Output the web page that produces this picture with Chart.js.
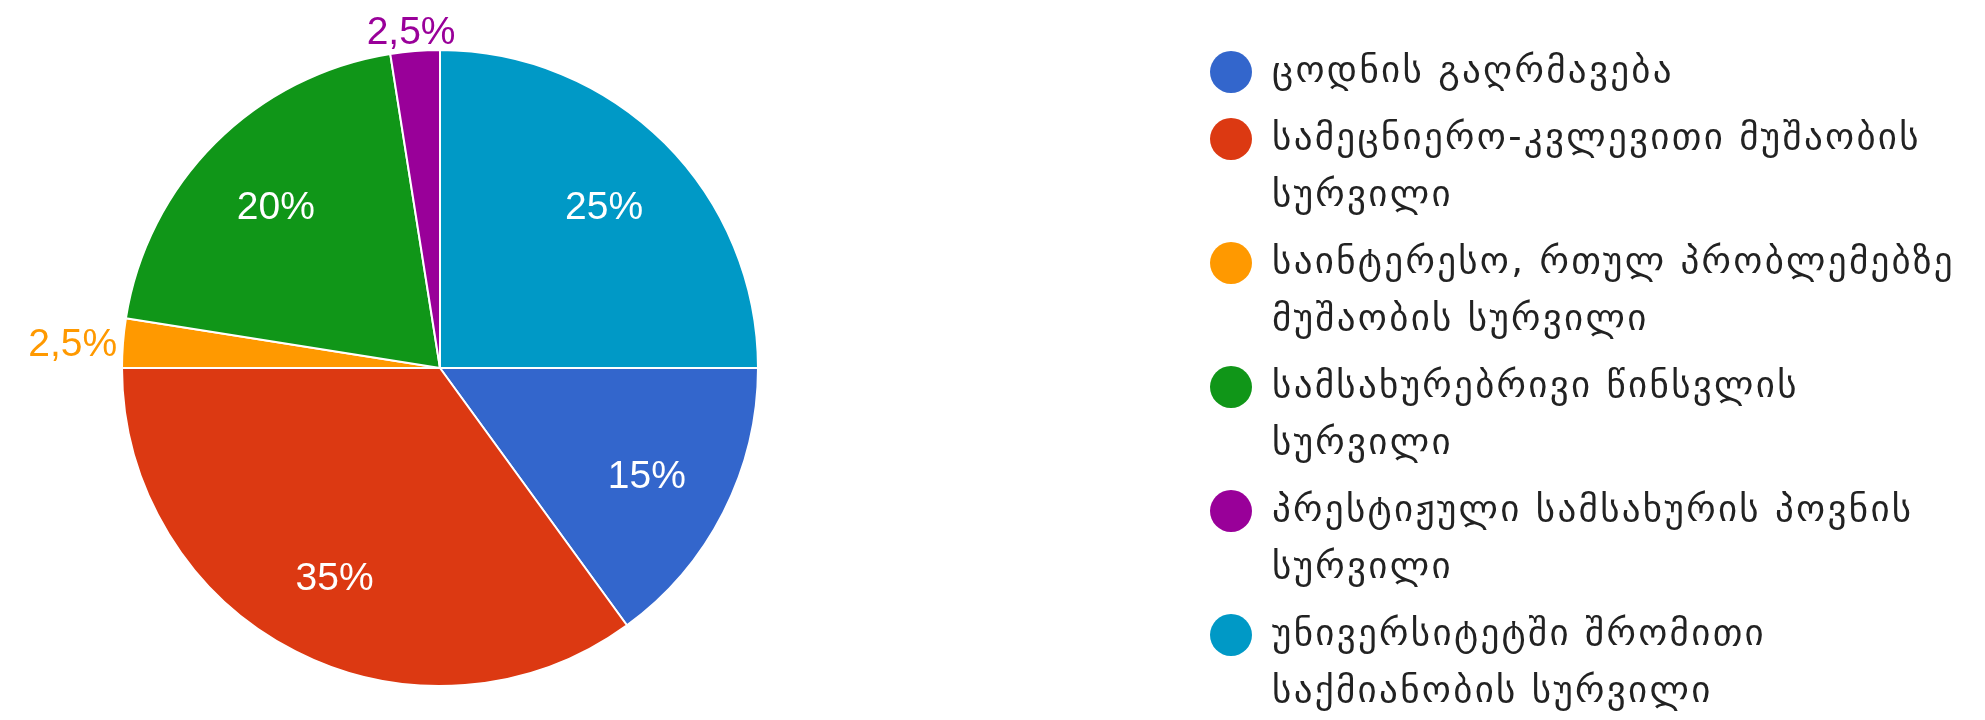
<!DOCTYPE html>
<html>
<head>
<meta charset="utf-8">
<script src="https://cdn.jsdelivr.net/npm/chart.js@4/dist/chart.umd.min.js"></script>
<style>
  html, body { margin: 0; padding: 0; background: #fff; }
  #chartContainer { display: block; }
</style>
</head>
<body>
<canvas id="chartContainer" width="1985" height="720"></canvas>
<script>
// Legend labels, already broken into lines as in the picture
const categories = [
    ['ცოდნის გაღრმავება'],
    ['სამეცნიერო-კვლევითი მუშაობის', 'სურვილი'],
    ['საინტერესო, რთულ პრობლემებზე', 'მუშაობის სურვილი'],
    ['სამსახურებრივი წინსვლის', 'სურვილი'],
    ['პრესტიჟული სამსახურის პოვნის', 'სურვილი'],
    ['უნივერსიტეტში შრომითი', 'საქმიანობის სურვილი']
];
// Share of answers, percent
const shares = [15, 35, 2.5, 20, 2.5, 25];
const sliceColors = ['#3366cc', '#dc3912', '#ff9900', '#109618', '#990099', '#0099c6'];

// Percent labels: inside for big slices, outside for tiny ones
const sliceLabels = {
    id: 'sliceLabels',
    afterDatasetsDraw(chart) {
        const ctx = chart.ctx;
        const meta = chart.getDatasetMeta(0);
        const values = chart.data.datasets[0].data;
        ctx.save();
        ctx.font = '39px "Liberation Sans", Arial, sans-serif';
        ctx.textAlign = 'center';
        ctx.textBaseline = 'middle';
        meta.data.forEach((arc, i) => {
            const p = arc.getProps(['x', 'y', 'startAngle', 'endAngle', 'outerRadius'], true);
            const mid = (p.startAngle + p.endAngle) / 2;
            const dx = Math.cos(mid);
            const dy = Math.sin(mid);
            const text = String(values[i]).replace('.', ',') + '%';
            if (values[i] >= 5) {
                ctx.fillStyle = '#ffffff';
                ctx.fillText(text, p.x + dx * p.outerRadius * 0.73, p.y + dy * p.outerRadius * 0.73 + 4);
            } else {
                const w = ctx.measureText(text).width;
                const ax = p.x + dx * (p.outerRadius + 6);
                const ay = p.y + dy * (p.outerRadius + 6);
                ctx.fillStyle = sliceColors[i];
                ctx.fillText(text, ax + dx * w / 2, ay + dy * 16 + 4);
            }
        });
        ctx.restore();
    }
};

// Legend on the right, drawn by hand so it can sit far from the pie
const sideLegend = {
    id: 'sideLegend',
    afterDraw(chart) {
        const ctx = chart.ctx;
        ctx.save();
        ctx.font = '37px "DejaVu Sans", sans-serif';
        ctx.letterSpacing = '2.3px';
        ctx.textAlign = 'left';
        ctx.textBaseline = 'middle';
        let y = 72;
        chart.data.labels.forEach((lines, i) => {
            ctx.fillStyle = sliceColors[i];
            ctx.beginPath();
            ctx.arc(1231, y, 21, 0, Math.PI * 2);
            ctx.fill();
            ctx.fillStyle = '#222222';
            lines.forEach((line, j) => ctx.fillText(line, 1272, y + j * 57));
            y += lines.length * 57 + 10;
        });
        ctx.restore();
    }
};

const ctx = document.getElementById('chartContainer').getContext('2d');
const pieChart = new Chart(ctx, {
    type: 'pie',
    data: {
        labels: categories,
        datasets: [{
            data: shares,
            backgroundColor: sliceColors,
            borderColor: '#ffffff',
            borderWidth: 2
        }]
    },
    options: {
        responsive: false,
        devicePixelRatio: 1,
        animation: false,
        rotation: 90,
        layout: { padding: { left: 117, right: 1222, top: 49, bottom: 33 } },
        plugins: {
            legend: { display: false },
            tooltip: { enabled: false }
        }
    },
    plugins: [sliceLabels, sideLegend]
});
</script>
</body>
</html>
